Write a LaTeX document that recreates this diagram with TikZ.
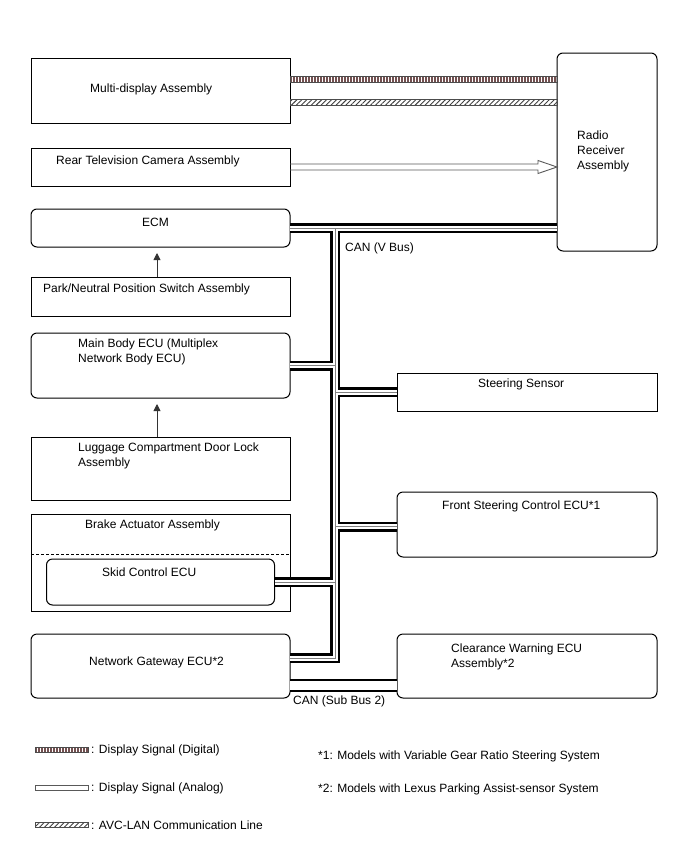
\documentclass[tikz,border=0pt]{standalone}
\usepackage{fontspec}
\setmainfont{Liberation Sans}
\usetikzlibrary{arrows.meta,patterns.meta,calc}
\definecolor{digi}{RGB}{115,80,80}
\begin{document}
\begin{tikzpicture}[x=1pt,y=-1pt,
  box/.style={draw, line width=1pt, inner sep=0pt, outer sep=0pt, anchor=north west},
  rbox/.style={box, rounded corners=6pt},
  txt/.style={anchor=base west, inner sep=0pt, font=\fontsize{12}{15}\selectfont},
  cabA/.style={draw=black, line width=10pt},
  cabB/.style={draw=white, line width=5pt},
  cabC/.style={draw=gray, line width=1pt},
  digline/.style={pattern={Lines[angle=90,distance=3pt,line width=1.3pt]}, pattern color=digi},
  avcline/.style={pattern={Lines[angle=45,distance=3.5pt,line width=0.9pt]}, pattern color=black!75},
  sigedge/.style={draw=black!70, line width=0.6pt},
  arr/.style={draw=black!80, line width=0.9pt, -{Triangle[length=7pt,width=7pt]}, shorten >=6pt}
]
\useasboundingbox (0,0) rectangle (688,852);

% ---- boxes ----
\node[box,  minimum width=259pt, minimum height=65pt] (md)  at (31,58) {};
\node[box,  minimum width=259pt, minimum height=38pt] (rt)  at (31,148) {};
\node[rbox, minimum width=259pt, minimum height=38pt] (ecm) at (31,209) {};
\node[box,  minimum width=259pt, minimum height=39pt] (pn)  at (31,277) {};
\node[rbox, minimum width=259pt, minimum height=65pt] (mb)  at (31,333) {};
\node[box,  minimum width=259pt, minimum height=63pt] (lg)  at (31,437) {};
\node[box,  minimum width=259pt, minimum height=97pt] (ba)  at (31,514) {};
\node[rbox, minimum width=228pt, minimum height=46pt] (sk)  at (46.5,559) {};
\node[rbox, minimum width=259pt, minimum height=64pt] (gw)  at (31,634) {};
\node[rbox, minimum width=100pt, minimum height=198pt] (rr) at (557,53) {};
\node[box,  minimum width=260pt, minimum height=38pt] (ss)  at (397,373) {};
\node[rbox, minimum width=260pt, minimum height=65pt] (fs)  at (397,492) {};
\node[rbox, minimum width=260pt, minimum height=64pt] (cw)  at (397,634) {};

% dashed divider in brake actuator
\draw[line width=0.9pt, dash pattern=on 3pt off 2pt] (ba.west |- 0,554) coordinate (bd1) -- (bd1 -| ba.east);

% ---- texts ----
\node[txt] (t1) at (90,92.5) {Multi-display Assembly};
\node[txt] (t2) at (56,164.5) {Rear Television Camera Assembly};
\node[txt] (t3) at (142,226.5) {ECM};
\node[txt] (t4) at (43,292.5) {Park/Neutral Position Switch Assembly};
\node[txt] (t5) at (78,347.5) {Main Body ECU (Multiplex};
\node[txt] (t5b) at (78,362.5) {Network Body ECU)};
\node[txt] (t6) at (78,451.5) {Luggage Compartment Door Lock};
\node[txt] (t6b) at (78,466.5) {Assembly};
\node[txt] (t7) at (85,528.5) {Brake Actuator Assembly};
\node[txt] (t8) at (102,576.5) {Skid Control ECU};
\node[txt] (t9) at (89,665.5) {Network Gateway ECU*2};
\node[txt] (t10) at (577,139.5) {Radio};
\node[txt] (t10b) at (577,154.5) {Receiver};
\node[txt] (t10c) at (577,169.5) {Assembly};
\node[txt] (t11) at (478,387.5) {Steering Sensor};
\node[txt] (t12) at (442,509.5) {Front Steering Control ECU*1};
\node[txt] (t13) at (451,652.5) {Clearance Warning ECU};
\node[txt] (t13b) at (451,667.5) {Assembly*2};
\node[txt] (t14) at (345,251.5) {CAN (V Bus)};
\node[txt] (t15) at (293,704.5) {CAN (Sub Bus 2)};

% ---- display / AVC lines ----
\coordinate (dL) at ($(md.east)+(0,-11.5)$);
\coordinate (dR) at (dL -| rr.west);
\path[digline] ($(dL)+(0,-3)$) rectangle ($(dR)+(0,3)$);
\draw[sigedge] ($(dL)+(0,-3)$) rectangle ($(dR)+(0,3)$);
\coordinate (vL) at ($(md.east)+(0,11.5)$);
\coordinate (vR) at (vL -| rr.west);
\path[avcline] ($(vL)+(0,-3)$) rectangle ($(vR)+(0,3)$);
\draw[sigedge] ($(vL)+(0,-3)$) rectangle ($(vR)+(0,3)$);

% analog hollow arrow
\coordinate (aL) at (rt.east);
\coordinate (aR) at (rt.east -| rr.west);
\draw[draw=gray!70!black, line width=0.9pt, line join=miter]
  ($(aL)+(0,-3)$) -- ($(aR)+(-19,-3)$) -- ($(aR)+(-19,-6.5)$) -- (aR)
  -- ($(aR)+(-19,6.5)$) -- ($(aR)+(-19,3)$) -- ($(aL)+(0,3)$);

% ---- small arrows ----
\coordinate (p1) at ($(pn.north)+(-3.5,0)$);
\draw[arr] (p1) -- (p1 |- ecm.south);
\coordinate (p2) at ($(lg.north)+(-3.5,0)$);
\draw[arr] (p2) -- (p2 |- mb.south);

% ---- CAN V bus ----
\coordinate (tt) at (335,228);
\coordinate (tb) at (335,658);
\coordinate (gwt) at ($(gw.east)+(0,-8)$);
\newcommand\vbus[1]{%
  \draw[#1] (ecm.east) -- (ecm.east -| rr.west);
  \draw[#1, line join=miter] (tt) -- (tb) -- (gwt);
  \draw[#1] (mb.east) -- (mb.east -| tt);
  \draw[#1] (ss.west) -- (ss.west -| tt);
  \draw[#1] ($(fs.west)+(0,2)$) coordinate (fsw) -- (fsw -| tt);
  \draw[#1] (sk.east) -- (sk.east -| tt);
}
\vbus{cabA}
\vbus{cabB}
\vbus{cabC}

% ---- CAN Sub Bus 2 ----
\coordinate (sb) at ($(gw.east)+(0,19)$);
\draw[black, line width=13pt] (sb) -- (sb -| cw.west);
\draw[white, line width=9pt] (sb) -- (sb -| cw.west);
\draw[gray, line width=0.9pt, double=white, double distance=3.1pt] (sb) -- (sb -| cw.west);

% ---- legend ----
\path[digline] (35,747) rectangle (88,752);
\draw[sigedge] (35,747) rectangle (88,752);
\node[txt, anchor=west] (l1) at (91,750) {: Display Signal (Digital)};
\draw[draw=gray!70!black, line width=0.8pt] (35,785) rectangle (88,790);
\node[txt, anchor=west] (l2) at (91,788) {: Display Signal (Analog)};
\path[avcline] (35,822) rectangle (88,827);
\draw[sigedge] (35,822) rectangle (88,827);
\node[txt, anchor=west] (l3) at (91,825) {: AVC-LAN Communication Line};

\node[txt] (f1) at (318,759.5) {*1: Models with Variable Gear Ratio Steering System};
\node[txt] (f2) at (318,792.5) {*2: Models with Lexus Parking Assist-sensor System};
\end{tikzpicture}
\end{document}
